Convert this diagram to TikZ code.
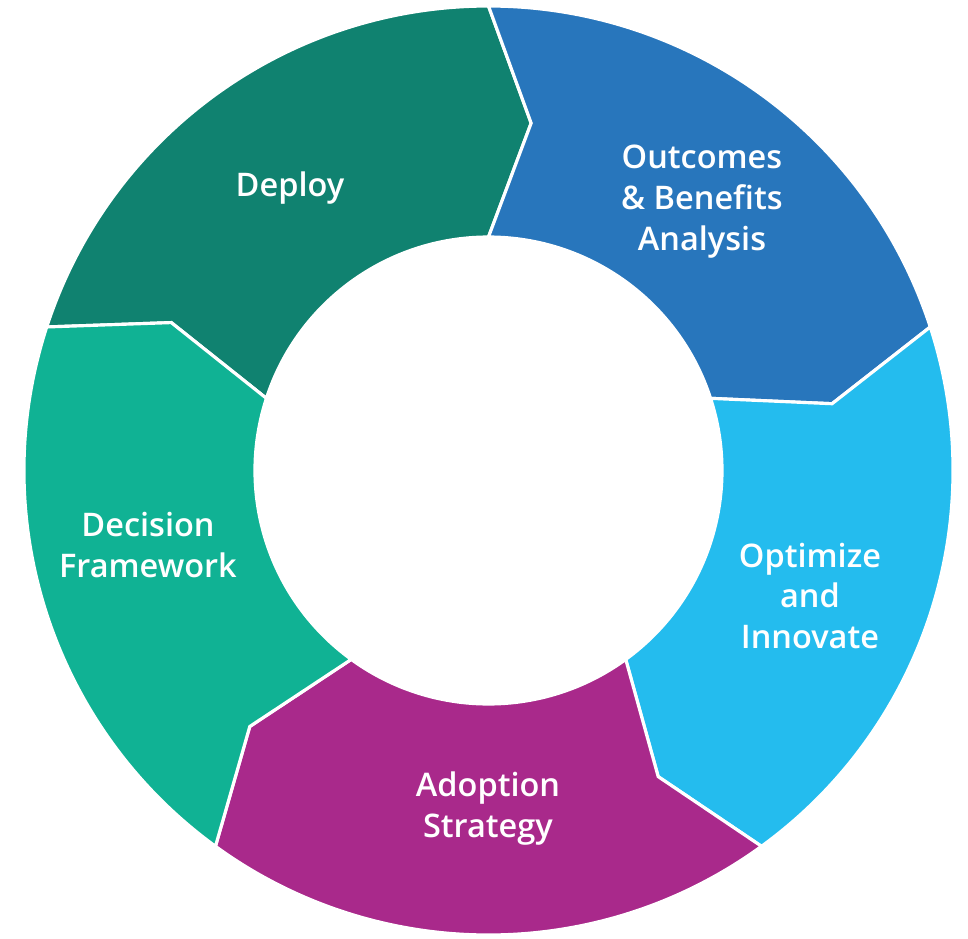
\documentclass[tikz,border=0pt]{standalone}
\usepackage{fontspec}
\setmainfont{Open Sans}
\newfontfamily\lblfont{Open Sans}[UprightFont=* Semibold]
\definecolor{deploycol}{HTML}{108270}
\definecolor{outcomecol}{HTML}{2876BC}
\definecolor{optimcol}{HTML}{24BCEE}
\definecolor{adoptcol}{HTML}{A9298B}
\definecolor{decisioncol}{HTML}{10B294}
\tikzset{
  segm/.style={draw=white, line width=1.8pt, line join=miter},
  lbl/.style={text=white, align=center, font=\lblfont\fontsize{18.5}{23.3}\selectfont}
}
\begin{document}
\begin{tikzpicture}[x=0.02cm, y=0.02cm, line join=round]
\def \R{464.5}\def \r{233.5}\def \rm{350}\def \tip{7}
\useasboundingbox (-488.5,-467.5) rectangle (479.5,470.5);
% ring segments, each pointing clockwise
\foreach \a/\col in {162/deploycol, 90/outcomecol, 18/optimcol, -54/adoptcol, -126/decisioncol}{
  \pgfmathsetmacro\b{\a-72}
  \fill[\col, segm] (\a:\R) arc[start angle=\a, end angle=\b, radius=\R]
    -- (\b-\tip:\rm) -- (\b:\r) arc[start angle=\b, end angle=\a, radius=\r]
    -- (\a-\tip:\rm) -- cycle;
}
\node[lbl] (deploy) at (-198.5,282.5) {Deploy};
\node[lbl] (outcomes) at (213.5,268.5) {Outcomes\\\& Benefits\\Analysis};
\node[lbl] (optimize) at (321.5,-125.5) {Optimize\\and\\Innovate};
\node[lbl] (adoption) at (-0.5,-338.5) {Adoption\\Strategy};
\node[lbl] (decision) at (-340.5,-74.5) {Decision\\Framework};
\end{tikzpicture}
\end{document}
